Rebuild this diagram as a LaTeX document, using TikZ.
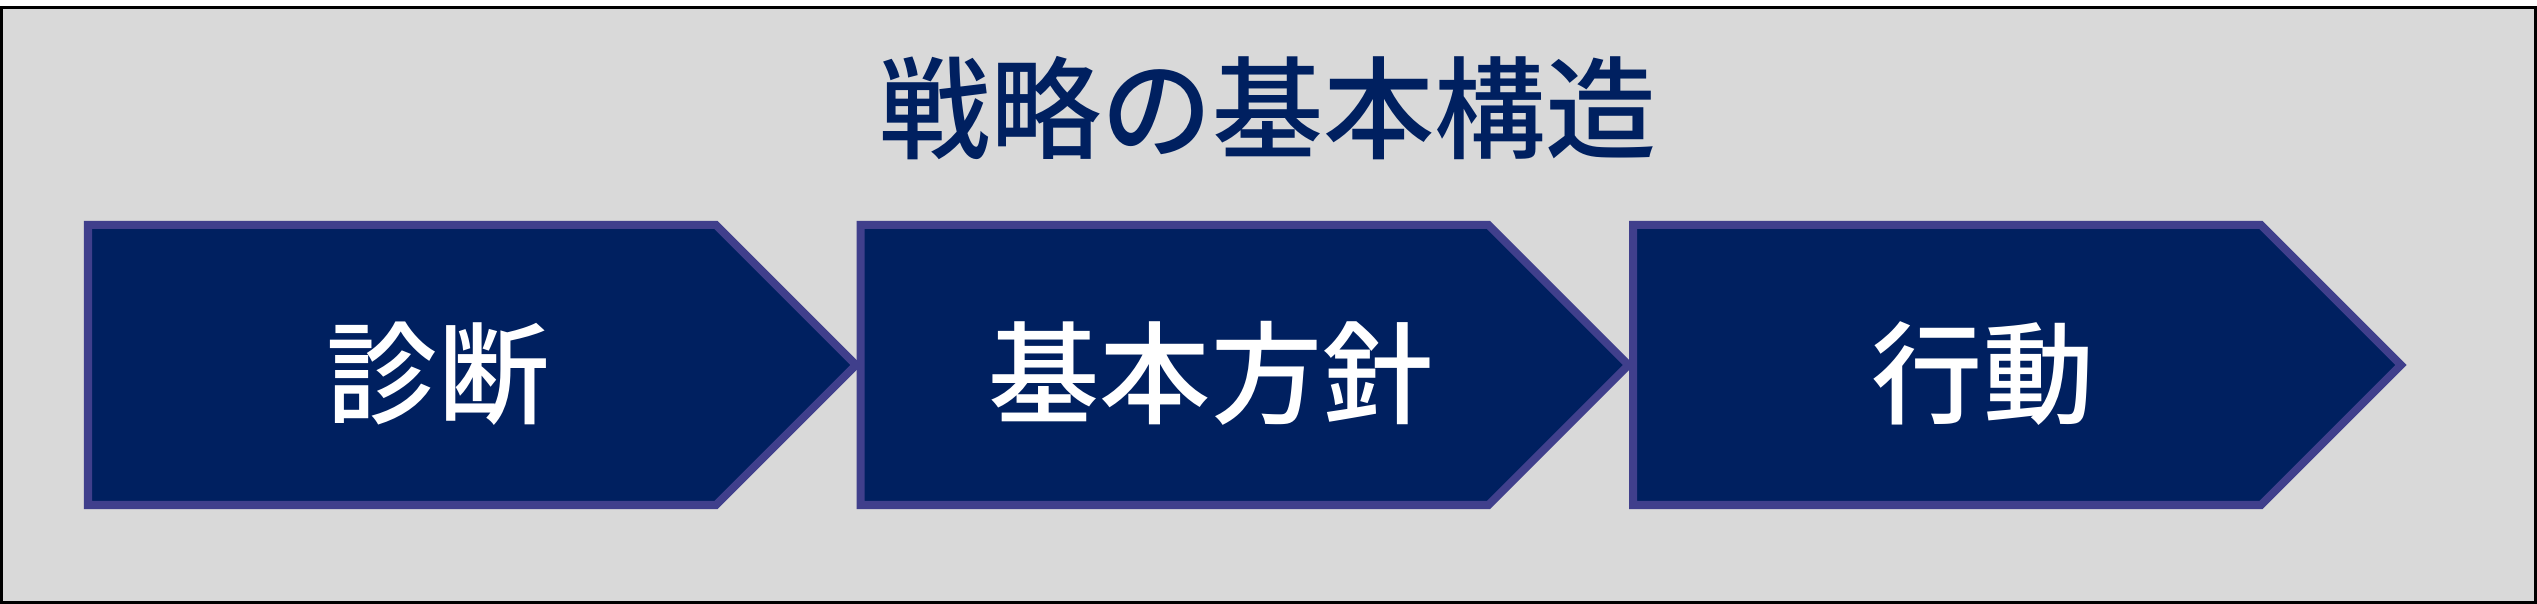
\documentclass[tikz,border=0pt]{standalone}
\usepackage{fontspec}
\newfontfamily\jp{Noto Sans CJK JP}[UprightFont={* Medium}]
\definecolor{bggrey}{HTML}{D9D9D9}
\definecolor{navy}{HTML}{002060}
\definecolor{rim}{HTML}{403F8C}
\tikzset{
  arrowbox/.style={fill=navy, draw=rim, line width=0.08cm, line join=miter},
  boxlabel/.style={text=white, inner sep=0pt, font=\jp\fontsize{31.6pt}{38pt}\selectfont},
  titlelabel/.style={text=navy, inner sep=0pt, font=\jp\fontsize{31.6pt}{38pt}\selectfont}
}
\begin{document}
\begin{tikzpicture}[x=0.01cm, y=-0.01cm]
\useasboundingbox (0,0) rectangle (2537,604);
\fill[white] (0,0) rectangle (2537,604);
\draw[fill=bggrey, draw=black, line width=0.03cm] (1.5,8) rectangle (2535,602.5);
\node[titlelabel] (title) at (1268,108) {戦略の基本構造};
% pentagon arrows: top 225, bottom 505, point at 365
\foreach \l/\n in {88/a, 860.5/b, 1633/c} {
  \draw[arrowbox] (\l,225) -- ({\l+628},225) -- ({\l+768},365) -- ({\l+628},505) -- (\l,505) -- cycle;
}
\node[boxlabel] (diag) at (438,373.5) {診断};
\node[boxlabel] (policy) at (1211,373.5) {基本方針};
\node[boxlabel] (action) at (1983,373.5) {行動};
\end{tikzpicture}
\end{document}
